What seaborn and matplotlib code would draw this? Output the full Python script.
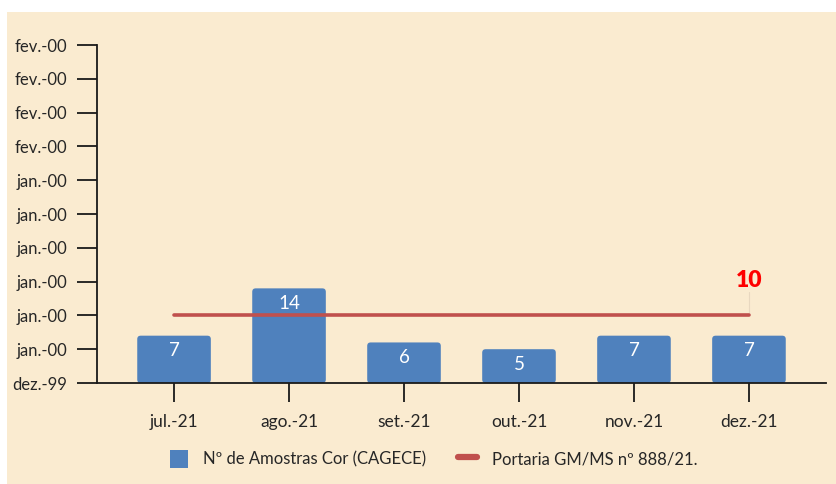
import matplotlib
matplotlib.use("Agg")
import matplotlib.pyplot as plt
import seaborn as sns
import pandas as pd
from matplotlib.patches import Patch, Rectangle, FancyBboxPatch
from matplotlib.lines import Line2D

months = ["jul.-21", "ago.-21", "set.-21", "out.-21", "nov.-21", "dez.-21"]
amostras = [7, 14, 6, 5, 7, 7]
portaria = [10, 10, 10, 10, 10, 10]
ytick_values = [0, 5, 10, 15, 20, 25, 30, 35, 40, 45, 50]
ytick_labels = ["dez.-99", "jan.-00", "jan.-00", "jan.-00", "jan.-00", "jan.-00",
                "jan.-00", "fev.-00", "fev.-00", "fev.-00", "fev.-00"]
bar_label_name = "Nº de Amostras Cor (CAGECE)"
line_label_name = "Portaria GM/MS nº 888/21."

BG = "#FAEBD0"
BLUE = "#4F81BD"
RED = "#C0504D"

sns.set_style("white")
plt.rcParams["font.family"] = ["Lato", "DejaVu Sans"]

df = pd.DataFrame({"mes": months, "amostras": amostras, "portaria": portaria})

fig = plt.figure(figsize=(8.37, 4.84), dpi=100, facecolor="white")
fig.patches.append(Rectangle((7 / 837, 0), 1 - 7 / 837, 1 - 12 / 484,
                             transform=fig.transFigure, facecolor=BG,
                             edgecolor="none", zorder=-10))
ax = fig.add_axes([97 / 837, 1 - 383 / 484, (826 - 97) / 837, (383 - 45) / 484])
ax.set_facecolor("none")

sns.barplot(data=df, x="mes", y="amostras", color=BLUE, width=0.64,
            saturation=1, ax=ax, zorder=2)

ax.set_ylim(0, 50)
ax.set_xlim(-0.67, 5.67)

# round the bar corners slightly
aspect = (50 / 338) / (6.34 / 729)
for p in list(ax.patches):
    x0, y0, w, h = p.get_x(), p.get_y(), p.get_width(), p.get_height()
    p.remove()
    ax.add_patch(FancyBboxPatch((x0, y0), w, h,
                                boxstyle="round,pad=0,rounding_size=0.03",
                                mutation_aspect=aspect, facecolor=BLUE,
                                edgecolor="none", zorder=2))

xpos = list(range(len(months)))
sns.lineplot(x=xpos, y=df["portaria"], color=RED, linewidth=2.6, ax=ax, zorder=3)

for i, v in enumerate(amostras):
    ax.text(i, v - 2.2, str(v), ha="center", va="center", color="white",
            fontsize=13.5, zorder=4)

last = len(months) - 1
ax.plot([last, last], [portaria[last], portaria[last] + 3.5], color="#E8D8C0",
        linewidth=0.8, zorder=1)
ax.text(last, portaria[last] + 5.2, str(portaria[last]), ha="center", va="center",
        color="#FF0000", fontsize=16.5, fontweight="heavy")

ax.set_yticks(ytick_values)
ax.set_yticklabels(ytick_labels)
ax.set_xlabel("")
ax.set_ylabel("")
for s in ["top", "right"]:
    ax.spines[s].set_visible(False)
for s in ["left", "bottom"]:
    ax.spines[s].set_color("#1a1a1a")
    ax.spines[s].set_linewidth(1.3)
ax.tick_params(axis="y", direction="out", length=14.5, width=1.3, color="#1a1a1a",
               labelsize=12, pad=7, left=True)
ax.tick_params(axis="x", direction="out", length=13.5, width=1.3, color="#1a1a1a",
               labelsize=12.5, pad=9, bottom=True)

handles = [Patch(facecolor=BLUE, edgecolor="none"),
           Line2D([0], [0], color=RED, linewidth=4.5)]
fig.legend(handles, [bar_label_name, line_label_name], loc="center",
           bbox_to_anchor=(0.518, 1 - 459 / 484), ncol=2, frameon=False,
           fontsize=12, handlelength=1.1, handleheight=1.3, columnspacing=1.9,
           handletextpad=0.9)

fig.savefig("out.png", dpi=100, facecolor="white")
